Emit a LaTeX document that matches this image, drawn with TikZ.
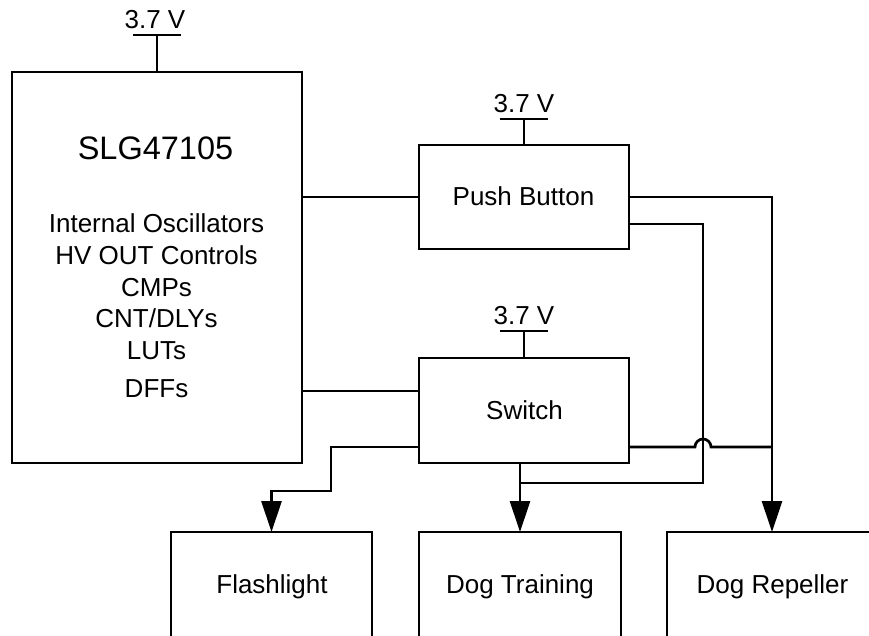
\documentclass[tikz,border=0pt]{standalone}
\usepackage{fontspec}
\setmainfont{Liberation Sans}
\usetikzlibrary{arrows.meta}
\begin{document}
\begin{tikzpicture}[x=1pt,y=-1pt]
\tikzset{
 blk/.style={draw=black, line width=2.7pt, inner sep=0pt, outer sep=0pt},
 lbl/.style={inner sep=0pt, outer sep=0pt, anchor=base, font=\fontsize{26}{30}\selectfont},
 big/.style={lbl, font=\fontsize{32.5}{38}\selectfont},
 wire/.style={line width=2.7pt},
 arr/.style={wire, -{Triangle[length=31pt,width=20pt]}},
}
\fill[white] (0,0) rectangle (869,635);
\useasboundingbox (0,0) rectangle (869,635);
% blocks
\node[blk, minimum width=290pt, minimum height=391pt] (slg) at (157,267.5) {};
\node[blk, minimum width=210pt, minimum height=104pt] (pb) at (524,197) {};
\node[blk, minimum width=210pt, minimum height=105pt] (sw) at (524,410.5) {};
\node[blk, minimum width=201pt, minimum height=108pt] (fl) at (271.5,586) {};
\node[blk, minimum width=202pt, minimum height=108pt] (dt) at (520,586) {};
\node[blk, minimum width=210pt, minimum height=108pt] (dr) at (772,586) {};
% texts
\node[big] (slgt) at (155.5,159) {SLG47105};
\node[lbl] (l1) at (156.5,232) {Internal Oscillators};
\node[lbl] (l2) at (156.5,264) {HV OUT Controls};
\node[lbl] (l3) at (156.5,296) {CMPs};
\node[lbl] (l4) at (156.5,327) {CNT/DLYs};
\node[lbl] (l5) at (156.5,359) {LUTs};
\node[lbl] (l6) at (156.5,397) {DFFs};
\node[lbl] (pbt) at (523.5,205) {Push Button};
\node[lbl] (swt) at (524.5,419) {Switch};
\node[lbl] (flt) at (272,593) {Flashlight};
\node[lbl] (dtt) at (520,593) {Dog Training};
\node[lbl] (drt) at (772.5,593) {Dog Repeller};
% supplies
\coordinate (v1) at (157,35);
\coordinate (v2) at (524,119);
\coordinate (v3) at (524,331);
\draw[wire] (slg.north) -- (v1);
\draw[wire] ([xshift=-24pt]v1) -- ([xshift=24pt]v1);
\draw[wire] (pb.north) -- (v2);
\draw[wire] ([xshift=-24pt]v2) -- ([xshift=24pt]v2);
\draw[wire] (sw.north) -- (v3);
\draw[wire] ([xshift=-24pt]v3) -- ([xshift=24pt]v3);
\node[lbl] (v1t) at (155,28) {3.7 V};
\node[lbl] (v2t) at (524,112) {3.7 V};
\node[lbl] (v3t) at (524,324) {3.7 V};
% connectors
\draw[wire] (pb.west -| slg.east) -- (pb.west);
\coordinate (swi) at (419,391);
\draw[wire] (swi -| slg.east) -- (swi);
\draw[arr] (pb.east) -| (dr.north);
\coordinate (pbo) at (629,224);
\coordinate (j1) at (703,483);
\draw[wire] (pbo) -| (j1) -- (j1 -| dt.north);
\draw[arr] (dt.north |- sw.south) -- (dt.north);
\coordinate (swo) at (629,447);
\coordinate (hop) at (695,447);
\draw[wire] (swo) -- (hop) arc[start angle=180, end angle=0, radius=8pt] -- (swo -| dr.north);
\coordinate (swl) at (419,447);
\coordinate (k1) at (331,491);
\draw[arr] (swl) -| (k1) -| (fl.north);
\end{tikzpicture}
\end{document}
